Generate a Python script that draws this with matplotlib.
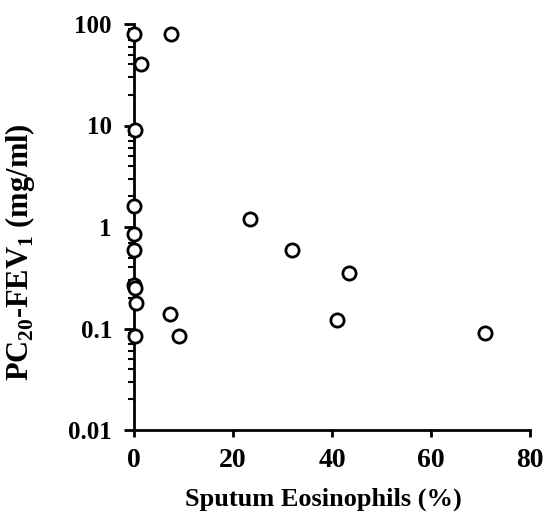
import matplotlib
matplotlib.use("Agg")
import matplotlib.pyplot as plt
from matplotlib.ticker import LogLocator, FixedLocator, NullFormatter

eos_pct = [0.0, 7.5, 1.5, 0.3, 0.0, 0.0, 0.0, 0.0, 0.3, 0.5, 0.2, 23.5, 32.0, 43.5, 41.0, 71.0, 7.3, 9.0]
pc20 = [80, 80, 40, 9.0, 1.6, 0.85, 0.6, 0.27, 0.25, 0.18, 0.085, 1.2, 0.6, 0.35, 0.12, 0.09, 0.14, 0.085]

x_ticks = [0, 20, 40, 60, 80]
y_ticks = [0.01, 0.1, 1, 10, 100]
y_ticklabels = ["0.01", "0.1", "1", "10", "100"]

plt.rcParams['font.family'] = ['Liberation Serif', 'DejaVu Serif']
plt.rcParams['font.weight'] = 'bold'
plt.rcParams['mathtext.fontset'] = 'custom'
plt.rcParams['mathtext.rm'] = 'Liberation Serif:bold'
plt.rcParams['mathtext.bf'] = 'Liberation Serif:bold'

fig = plt.figure(figsize=(5.53, 5.15), dpi=100)
ax = fig.add_axes([134/553, 1 - 430/515, (530 - 134)/553, (430 - 24)/515])

ax.plot(eos_pct, pc20, linestyle='none', marker='o', markersize=9.5,
        markerfacecolor='white', markeredgecolor='black', markeredgewidth=2,
        clip_on=False, zorder=3)

ax.set_yscale('log')
ax.set_xlim(0, 80)
ax.set_ylim(0.01, 100)

ax.spines['top'].set_visible(False)
ax.spines['right'].set_visible(False)
ax.spines['left'].set_linewidth(2)
ax.spines['bottom'].set_linewidth(2)

ax.xaxis.set_major_locator(FixedLocator(x_ticks))
ax.set_xticklabels([str(t) for t in x_ticks])
ax.yaxis.set_major_locator(FixedLocator(y_ticks))
ax.set_yticklabels(y_ticklabels)
ax.yaxis.set_minor_locator(LogLocator(base=10, subs=range(2, 10)))
ax.yaxis.set_minor_formatter(NullFormatter())

ax.tick_params(axis='x', which='major', direction='out', length=5, width=2,
               labelsize=20, pad=8)
ax.tick_params(axis='y', which='major', direction='out', length=7, width=2,
               labelsize=18, pad=9)
ax.tick_params(axis='y', which='minor', direction='out', length=4, width=1.5)

ax.set_xlabel('Sputum Eosinophils (%)', fontsize=19, fontweight='bold')
ax.xaxis.set_label_coords(0.477, -0.143)
ax.set_ylabel(r'PC$_{20}$-FEV$_{1}$ (mg/ml)', fontsize=22, fontweight='bold')
ax.yaxis.set_label_coords(-0.245, 0.437)

fig.savefig('out.png', dpi=100)
